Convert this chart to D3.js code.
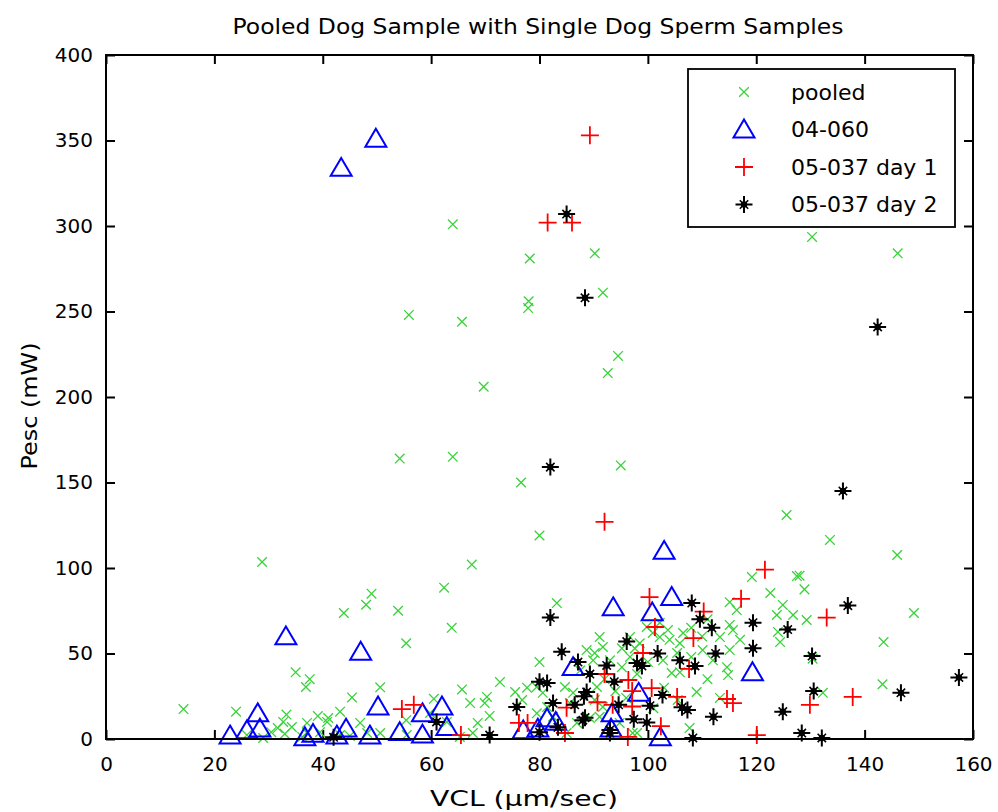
<!DOCTYPE html>
<html>
<head>
<meta charset="utf-8">
<script src="https://cdn.jsdelivr.net/npm/d3@7"></script>
<style>
    body { margin: 0; background: #fff; }
    text { font-family: "DejaVu Sans", sans-serif; fill: #000; }
</style>
</head>
<body>
<div id="chart"></div>
<script>
// values: [VCL, Pesc]
var pooled = [
    [64,301],[78.2,281],[90.2,284],[91.7,261],[78,256],[77.9,252],[55.9,248],[65.7,244],[94.5,224],[92.6,214],
    [69.7,206],[54.2,164],[64,165],[95,160],[76.6,150],[80,119],[67.5,102],[28.8,103.5],[62.4,88.5],[49,85],
    [48,78.5],[83.2,79.5],[43.9,73.7],[53.9,75],[63.8,65],[55.4,56],[130.3,293.6],[146.1,284],[125.6,131],[133.6,116.4],
    [146,107.6],[128,95.5],[128.9,87.5],[149.1,73.7],[143.5,56.7],[143.3,32],[132.3,27],
    [14.3,17.5],[24,16],[35,39],[37.6,35],[36.9,30.4],[45.4,24.3],[50.6,30.2],[43.2,16],[33.3,14.3],[32.7,10],
    [31.7,6.4],[34.3,7],[37.1,9.4],[39.1,13.4],[41,12.3],[40.8,10],[36.2,1.2],[39.5,4],[45,1.8],[46.9,9.4],
    [48.2,3.5],[50.6,3.5],[55.4,11],[55.5,2.3],[26,2.3],[29,0.6],[37.1,3.5],[43.2,2.3],[33,3],[30.5,4],
    [65.7,29],[67.2,21],[60.5,23.5],[62.9,10],[68.6,9.4],[69.9,21],[65.3,1.2],[59.8,15.2],[72.7,33.3],[70.3,24.6],
    [70.8,13.5],[67.7,3.5],[75.5,27.5],[76.8,22.8],[79.5,30.4],[77.7,30],[80.6,27],[79.5,15],[81.4,18.7],[82.5,13],
    [84.7,30.4],[86.2,27],[85.6,21],[80,45],[86.9,9.4],[85,3.5],[89.3,12.3],[91.1,13],[91.7,18.7],[90.2,22.8],
    [90.6,30.4],[89.9,46],[88.7,52],[90.2,50.3],[91.1,59.6],[91.7,53.8],[93,46],[95.2,42],[96.7,48],[97.6,53],
    [95.2,53],[94.8,9.4],[97.2,3.5],[98,3.5],
    [96.7,59.6],[98.5,56],[99.8,65.5],[100.9,62],[102.2,68],[102.2,59.6],[103.7,63.7],[104,58],[105.9,56],[106.5,62],
    [102.8,46],[105.4,50.3],[110.1,52],[112,46],[104.4,38.6],[105.9,39],[105.5,22.8],[107.7,6.4],[109,27.5],[111,35],
    [113.3,24],[114.6,42],[114.8,37.4],[115.1,52],[117,58],[113.3,59.6],[115.7,63.7],[115.1,66.7],[115.1,80],[116.4,75.4],
    [119.2,94.7],[122.6,85.4],[127.5,95.3],[124.9,78.4],[123.8,72.5],[126.8,72.5],[124,62.6],[124.4,56.7],[129.3,69.6],[130.4,47],
    [87.5,40],[92,35],[94,28],[96,24],[98,38],[100,45],[103,30],[101,18],[108,48],[110,60],[111,70],[108,65]
];

var dog04060 = [
    [43.4,334],[49.8,351],[103,110],[104.4,83],[93.6,77],[100.8,74],[33.2,60],[47,51],[86.2,42],[119.3,39],
    [50.2,19],[22.9,2],[26,5],[28,15],[28.4,6],[36.7,1],[38.2,3],[42.6,2],[44.3,6],[48.7,2],
    [54.2,4],[58.4,15],[58.4,2.5],[62,19],[62.9,7],[77,5],[79.7,6],[81.4,12],[83,10],[93.4,15],
    [93.2,6],[98.3,27],[102.3,1]
];

var day1 = [
    [89.3,353],[81.5,302],[86,302],[92,127],[121.6,99],[117.2,82],[100.3,83],[110.3,74.5],[101.3,65.5],[108.4,59],
    [99.1,50.3],[107.6,41],[96.4,34.5],[97.1,28],[100.7,29.8],[105.4,24.6],[90.7,21.5],[93.5,20],[97.1,19],[114.6,23.4],
    [115.7,21],[102.4,7.5],[96.3,1.2],[120.1,2.3],[92,38],[133,71],[137.8,24.6],[129.9,20],[54.6,17.5],[56.8,20],
    [65.5,2.3],[76.2,9.4],[77.8,9.4],[85,18.3],[84.7,3.5]
];

var day2 = [
    [85,307],[88.4,258],[82,159],[142.4,241],[136,145],[136.9,78],[125.8,64],[130.3,48.5],[157.4,36],[146.7,27],
    [130.6,28],[124.9,16],[128.4,3.5],[132.1,0.6],[108.1,79.5],[109.6,70],[111.8,65],[119.4,68],[119.4,53],[96.1,57],
    [101.8,50],[105.9,46],[108.7,42.7],[112.5,50],[98.9,42.7],[92.4,43],[89.3,38],[93.8,33.5],[88.7,27.5],[88.4,12.5],
    [94.6,20],[100.4,19.5],[102.7,25.7],[106.3,18.5],[107.3,17],[112.1,13],[97.4,11.5],[99.8,9.6],[93,5.3],[108.3,0.6],
    [82,71],[84.1,51],[87.1,45],[80,33.5],[81.4,32.7],[75.8,18.7],[82.5,21],[86.5,20],[61,10],[70.8,2.3],
    [80,4],[83.4,6.8],[88.2,25],[88,11],[93,3.5],[98,44.4],[42,1]
];

var seriesNames = ["pooled", "04-060", "05-037 day 1", "05-037 day 2"];
var xTicks = [0, 20, 40, 60, 80, 100, 120, 140, 160];
var yTicks = [0, 50, 100, 150, 200, 250, 300, 350, 400];

var width = 998, height = 812;
var margin = {left: 106, right: 25, top: 55, bottom: 73};

var svg = d3.select('#chart')
    .append('svg')
    .attr('width', width)
    .attr('height', height);

svg.append('rect').attr('width', width).attr('height', height).attr('fill', '#fff');

var x = d3.scaleLinear().domain([0, 160]).range([margin.left, width - margin.right]);
var y = d3.scaleLinear().domain([0, 400]).range([height - margin.bottom, margin.top]);

// marker paths, MATLAB style
function xPath(s) { return "M" + -s + "," + -s + "L" + s + "," + s + "M" + -s + "," + s + "L" + s + "," + -s; }
function plusPath(s) { return "M" + -s + ",0H" + s + "M0," + -s + "V" + s; }
function triPath(s) { return "M0," + (-s * 0.95) + "L" + s + "," + (s * 0.75) + "L" + -s + "," + (s * 0.75) + "Z"; }

var markers = [
    {data: pooled, draw: function(g) {
        g.append('path').attr('d', xPath(4.8)).attr('stroke', '#3ad23a').attr('stroke-width', 1.3).attr('fill', 'none');
    }},
    {data: dog04060, draw: function(g) {
        g.append('path').attr('d', triPath(10.5)).attr('stroke', '#0000ff').attr('stroke-width', 2).attr('fill', 'none');
    }},
    {data: day1, draw: function(g) {
        g.append('path').attr('d', plusPath(9)).attr('stroke', '#ff0000').attr('stroke-width', 1.8).attr('fill', 'none');
    }},
    {data: day2, draw: function(g) {
        g.append('path').attr('d', plusPath(8.5)).attr('stroke', '#000').attr('stroke-width', 2);
        g.append('path').attr('d', xPath(4.2)).attr('stroke', '#000').attr('stroke-width', 1.6);
        g.append('circle').attr('r', 3.2).attr('fill', '#000');
    }}
];

// axes
var xAxis = d3.axisBottom(x).tickValues(xTicks).tickSizeInner(-9).tickSizeOuter(0).tickPadding(18);
var yAxis = d3.axisLeft(y).tickValues(yTicks).tickSizeInner(-9).tickSizeOuter(0).tickPadding(13);
var xTop = d3.axisTop(x).tickValues(xTicks).tickSizeInner(-9).tickSizeOuter(0).tickFormat('');
var yRight = d3.axisRight(y).tickValues(yTicks).tickSizeInner(-9).tickSizeOuter(0).tickFormat('');

function styleAxis(g) {
    g.select('.domain').remove();
    g.selectAll('line').attr('stroke', '#000').attr('stroke-width', 2);
    g.selectAll('text').attr('font-family', '"DejaVu Sans", sans-serif').attr('font-size', 20).attr('fill', '#000');
}

svg.append('g').attr('transform', 'translate(0,' + y(0) + ')').call(xAxis).call(styleAxis);
svg.append('g').attr('transform', 'translate(' + x(0) + ',0)').call(yAxis).call(styleAxis);
svg.append('g').attr('transform', 'translate(0,' + y(400) + ')').call(xTop).call(styleAxis);
svg.append('g').attr('transform', 'translate(' + x(160) + ',0)').call(yRight).call(styleAxis);

// points
markers.forEach(function(m) {
    var pts = svg.append('g').selectAll('g')
        .data(m.data)
        .enter().append('g')
        .attr('transform', function(d) { return 'translate(' + x(d[0]) + ',' + y(d[1]) + ')'; });
    pts.each(function() { m.draw(d3.select(this)); });
});

// frame
svg.append('rect')
    .attr('x', x(0)).attr('y', y(400))
    .attr('width', x(160) - x(0)).attr('height', y(0) - y(400))
    .attr('fill', 'none').attr('stroke', '#000').attr('stroke-width', 2);

// legend
var legend = svg.append('g').attr('transform', 'translate(688,69)');
legend.append('rect').attr('width', 267).attr('height', 158)
    .attr('fill', '#fff').attr('stroke', '#000').attr('stroke-width', 1.8);
seriesNames.forEach(function(name, i) {
    var row = legend.append('g').attr('transform', 'translate(0,' + (23 + i * 37.5) + ')');
    var mk = row.append('g').attr('transform', 'translate(56,0)');
    markers[i].draw(mk);
    row.append('text').attr('x', 103).attr('dy', '0.36em')
        .attr('font-size', 22).text(name);
});

// titles
svg.append('text').attr('x', 538).attr('y', 34).attr('text-anchor', 'middle')
    .attr('font-size', 22).attr('textLength', 611).attr('lengthAdjust', 'spacingAndGlyphs')
    .text('Pooled Dog Sample with Single Dog Sperm Samples');
svg.append('text').attr('x', 524).attr('y', 806).attr('text-anchor', 'middle')
    .attr('font-size', 22).attr('textLength', 188).attr('lengthAdjust', 'spacingAndGlyphs')
    .text('VCL (\u03bcm/sec)');
svg.append('text').attr('transform', 'translate(37,' + 406 + ') rotate(-90)').attr('text-anchor', 'middle')
    .attr('font-size', 22).attr('textLength', 127).attr('lengthAdjust', 'spacingAndGlyphs')
    .text('Pesc (mW)');
</script>
</body>
</html>
